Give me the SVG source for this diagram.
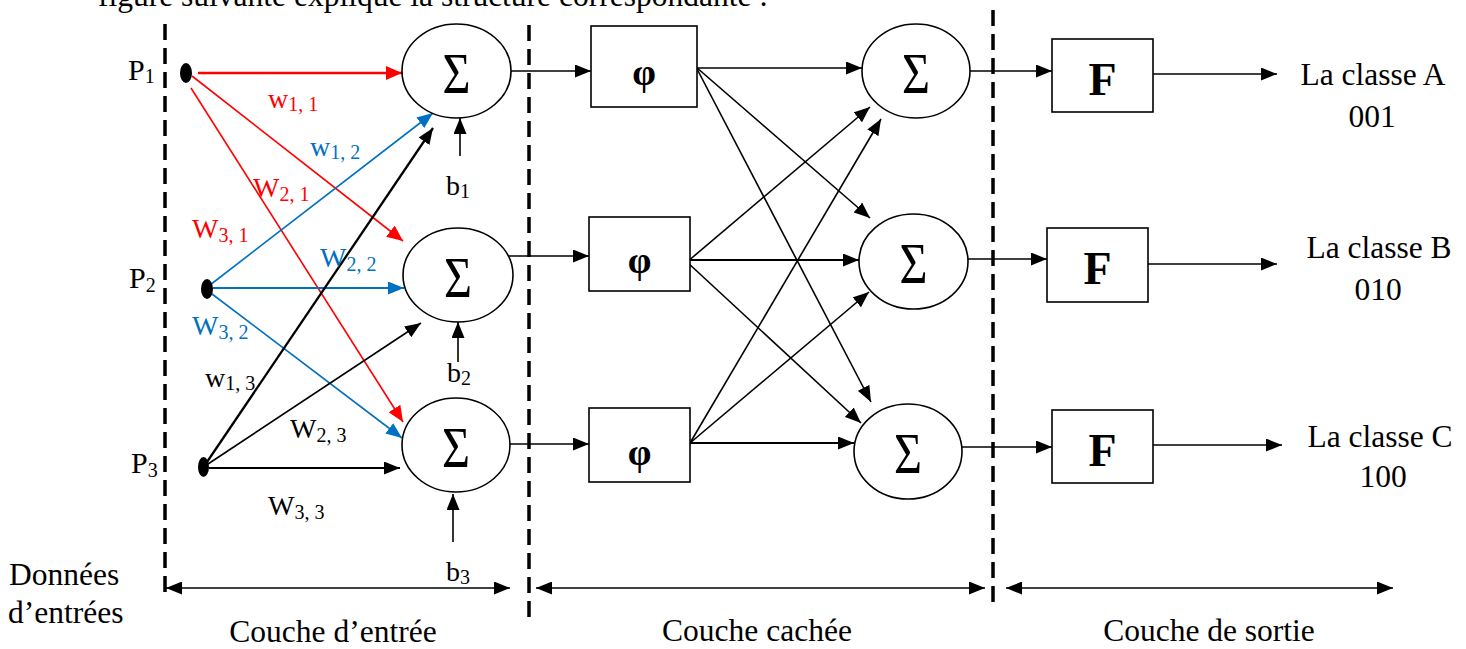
<svg xmlns="http://www.w3.org/2000/svg" width="1466" height="649" viewBox="0 0 1466 649">
  <style>
    text { font-family: "Liberation Serif", "Times New Roman", serif; fill: #000; }
    .lbl { font-size: 31.5px; }
    .w { font-size: 28px; }
    .sub { font-size: 20px; }
    .sig { font-size: 56px; }
    .phi { font-size: 38px; font-weight: bold; }
    .F { font-size: 46px; font-weight: bold; }
    .node { fill: #fff; stroke: #000; stroke-width: 1.6; }
    .dash { stroke: #000; stroke-width: 3.5; stroke-dasharray: 16 8; fill: none; }
    .k { stroke: #000; stroke-width: 1.6; fill: none; marker-end: url(#ak); }
    .r { stroke: #ff0000; stroke-width: 1.6; fill: none; marker-end: url(#ar); }
    .b { stroke: #0070c0; stroke-width: 1.6; fill: none; marker-end: url(#ab); }
    .span { stroke: #000; stroke-width: 1.6; fill: none; marker-start: url(#ak); marker-end: url(#ak); }
    .red { fill: #ff0000; }
    .blue { fill: #0070c0; }
  </style>
  <defs>
    <marker id="ak" markerUnits="userSpaceOnUse" markerWidth="16" markerHeight="13" refX="16" refY="6.5" orient="auto-start-reverse">
      <path d="M0,0 L16,6.5 L0,13 z" fill="#000"/>
    </marker>
    <marker id="ar" markerUnits="userSpaceOnUse" markerWidth="16" markerHeight="14" refX="16" refY="7" orient="auto">
      <path d="M0,0 L16,7 L0,14 z" fill="#ff0000"/>
    </marker>
    <marker id="ab" markerUnits="userSpaceOnUse" markerWidth="16" markerHeight="13" refX="16" refY="6.5" orient="auto">
      <path d="M0,0 L16,6.5 L0,13 z" fill="#0070c0"/>
    </marker>
  </defs>

  <!-- preceding sentence, clipped by the top edge -->
  <text class="lbl" x="98" y="6">figure suivante explique la structure correspondante :</text>

  <!-- layer separators -->
  <g id="separators">
    <line class="dash" x1="165" y1="24" x2="165" y2="598"/>
    <line class="dash" x1="529" y1="25" x2="529" y2="620"/>
    <line class="dash" x1="993" y1="10" x2="993" y2="606"/>
  </g>

  <g id="connectors">
    <!-- inputs to first summation layer -->
    <line class="r" x1="198" y1="73" x2="402" y2="73" style="stroke-width:2.6"/>
    <line class="r" x1="192" y1="76" x2="403" y2="241"/>
    <line class="r" x1="191" y1="88" x2="403" y2="422"/>
    <line class="b" x1="210" y1="285" x2="433" y2="113"/>
    <line class="b" x1="213" y1="288" x2="404" y2="288" style="stroke-width:2"/>
    <line class="b" x1="212" y1="294" x2="402" y2="438"/>
    <line class="k" x1="207" y1="462" x2="433" y2="128" style="stroke-width:2.3"/>
    <line class="k" x1="208" y1="464" x2="421" y2="323"/>
    <line class="k" x1="209" y1="468" x2="400" y2="468" style="stroke-width:2"/>
    <!-- biases -->
    <line class="k" x1="460" y1="156" x2="460" y2="118"/>
    <line class="k" x1="458" y1="362" x2="458" y2="322"/>
    <line class="k" x1="453" y1="542" x2="453" y2="494"/>
    <!-- summations to phi -->
    <line class="k" x1="511" y1="71" x2="591" y2="71"/>
    <line class="k" x1="500" y1="256" x2="589" y2="256"/>
    <line class="k" x1="510" y1="444" x2="589" y2="444"/>
    <!-- phi to hidden summations -->
    <line class="k" x1="696" y1="68" x2="862" y2="68"/>
    <line class="k" x1="696" y1="67" x2="870" y2="218"/>
    <line class="k" x1="696" y1="67" x2="871" y2="402"/>
    <line class="k" x1="687" y1="262" x2="870" y2="107"/>
    <line class="k" x1="687" y1="260" x2="859" y2="260" style="stroke-width:2"/>
    <line class="k" x1="687" y1="262" x2="861" y2="423"/>
    <line class="k" x1="690" y1="443" x2="881" y2="119"/>
    <line class="k" x1="690" y1="443" x2="869" y2="292"/>
    <line class="k" x1="690" y1="443" x2="854" y2="443" style="stroke-width:2"/>
    <!-- hidden summations to F -->
    <line class="k" x1="970" y1="71" x2="1052" y2="71"/>
    <line class="k" x1="962" y1="259" x2="1047" y2="259"/>
    <line class="k" x1="962" y1="447" x2="1052" y2="447"/>
    <!-- F to classes -->
    <line class="k" x1="1147" y1="74" x2="1277" y2="74"/>
    <line class="k" x1="1148" y1="264" x2="1277" y2="264"/>
    <line class="k" x1="1153" y1="445" x2="1282" y2="445"/>
    <!-- layer spans -->
    <line class="span" x1="166" y1="588" x2="510" y2="588"/>
    <line class="span" x1="536" y1="588" x2="985" y2="588"/>
    <line class="span" x1="1006" y1="588" x2="1393" y2="588"/>
  </g>

  <!-- weight labels -->
  <g id="weights">
    <text class="w red" x="268" y="108">w<tspan class="sub" dy="3">1, 1</tspan></text>
    <text class="w blue" x="310" y="156">w<tspan class="sub" dy="3">1, 2</tspan></text>
    <text class="w red" x="253" y="197">W<tspan class="sub" dy="4">2, 1</tspan></text>
    <text class="w red" x="192" y="238">W<tspan class="sub" dy="4">3, 1</tspan></text>
    <text class="w blue" x="320" y="267">W<tspan class="sub" dy="4">2, 2</tspan></text>
    <text class="w blue" x="192" y="335">W<tspan class="sub" dy="4">3, 2</tspan></text>
    <text class="w" x="205" y="387">w<tspan class="sub" dy="3">1, 3</tspan></text>
    <text class="w" x="290" y="438">W<tspan class="sub" dy="4">2, 3</tspan></text>
    <text class="w" x="268" y="515">W<tspan class="sub" dy="4">3, 3</tspan></text>
  </g>

  <!-- inputs -->
  <g id="node-p1">
    <ellipse cx="186" cy="73" rx="6" ry="10" fill="#000"/>
    <text class="w" x="128" y="80" style="font-size:30px">P<tspan class="sub" dy="3">1</tspan></text>
  </g>
  <g id="node-p2">
    <ellipse cx="207" cy="289" rx="6" ry="10" fill="#000"/>
    <text class="w" x="129" y="288" style="font-size:30px">P<tspan class="sub" dy="4">2</tspan></text>
  </g>
  <g id="node-p3">
    <ellipse cx="203.5" cy="467" rx="5.5" ry="10" fill="#000"/>
    <text class="w" x="131" y="473" style="font-size:30px">P<tspan class="sub" dy="4">3</tspan></text>
  </g>

  <!-- input layer summations -->
  <g id="node-sum1">
    <ellipse class="node" cx="456.5" cy="71" rx="54.5" ry="47"/>
    <text class="sig" x="456.5" y="93" text-anchor="middle" textLength="28" lengthAdjust="spacingAndGlyphs">Σ</text>
    <text class="w" x="446" y="195">b<tspan class="sub" dy="3">1</tspan></text>
  </g>
  <g id="node-sum2">
    <ellipse class="node" cx="458" cy="275" rx="55" ry="47"/>
    <text class="sig" x="458" y="297" text-anchor="middle" textLength="28" lengthAdjust="spacingAndGlyphs">Σ</text>
    <text class="w" x="447" y="382">b<tspan class="sub" dy="3">2</tspan></text>
  </g>
  <g id="node-sum3">
    <ellipse class="node" cx="456" cy="445" rx="54" ry="47"/>
    <text class="sig" x="456" y="467" text-anchor="middle" textLength="28" lengthAdjust="spacingAndGlyphs">Σ</text>
    <text class="w" x="446" y="581">b<tspan class="sub" dy="3">3</tspan></text>
  </g>

  <!-- radial functions -->
  <g id="node-phi1">
    <rect class="node" x="591" y="26" width="106" height="81"/>
    <text class="phi" x="644" y="85" text-anchor="middle">φ</text>
  </g>
  <g id="node-phi2">
    <rect class="node" x="589" y="217" width="101" height="74"/>
    <text class="phi" x="639.5" y="273" text-anchor="middle">φ</text>
  </g>
  <g id="node-phi3">
    <rect class="node" x="589" y="408" width="101" height="74"/>
    <text class="phi" x="639.5" y="465" text-anchor="middle">φ</text>
  </g>

  <!-- hidden layer summations -->
  <g id="node-hsum1">
    <ellipse class="node" cx="916" cy="71" rx="54" ry="47"/>
    <text class="sig" x="916" y="93" text-anchor="middle" textLength="28" lengthAdjust="spacingAndGlyphs">Σ</text>
  </g>
  <g id="node-hsum2">
    <ellipse class="node" cx="913.5" cy="261.5" rx="54.5" ry="47.5"/>
    <text class="sig" x="913.5" y="283" text-anchor="middle" textLength="28" lengthAdjust="spacingAndGlyphs">Σ</text>
  </g>
  <g id="node-hsum3">
    <ellipse class="node" cx="908" cy="451.5" rx="54" ry="47.5"/>
    <text class="sig" x="908" y="473" text-anchor="middle" textLength="28" lengthAdjust="spacingAndGlyphs">Σ</text>
  </g>

  <!-- output functions -->
  <g id="node-f1">
    <rect class="node" x="1052" y="39" width="101" height="73"/>
    <text class="F" x="1102.5" y="95" text-anchor="middle">F</text>
  </g>
  <g id="node-f2">
    <rect class="node" x="1047" y="228" width="101" height="74"/>
    <text class="F" x="1097.5" y="284" text-anchor="middle">F</text>
  </g>
  <g id="node-f3">
    <rect class="node" x="1052" y="410" width="101" height="73"/>
    <text class="F" x="1102.5" y="466" text-anchor="middle">F</text>
  </g>

  <!-- classes -->
  <g id="node-class-a">
    <text class="lbl" x="1373" y="85" text-anchor="middle">La classe A</text>
    <text class="lbl" x="1372" y="127" text-anchor="middle">001</text>
  </g>
  <g id="node-class-b">
    <text class="lbl" x="1379" y="258" text-anchor="middle">La classe B</text>
    <text class="lbl" x="1378" y="300" text-anchor="middle">010</text>
  </g>
  <g id="node-class-c">
    <text class="lbl" x="1380" y="447" text-anchor="middle">La classe C</text>
    <text class="lbl" x="1383" y="487" text-anchor="middle">100</text>
  </g>

  <!-- layer captions -->
  <g id="captions">
    <text class="lbl" x="9" y="585">Données</text>
    <text class="lbl" x="8" y="623">d’entrées</text>
    <text class="lbl" x="333" y="642" text-anchor="middle">Couche d’entrée</text>
    <text class="lbl" x="757" y="641" text-anchor="middle">Couche cachée</text>
    <text class="lbl" x="1209" y="641" text-anchor="middle">Couche de sortie</text>
  </g>
</svg>
